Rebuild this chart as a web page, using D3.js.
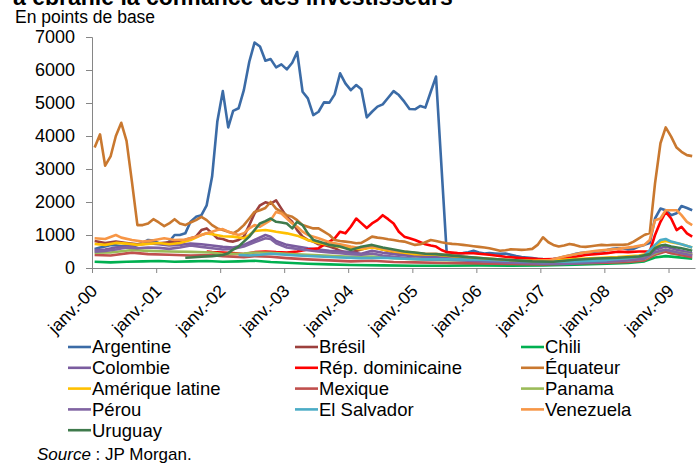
<!DOCTYPE html>
<head>
  <meta charset="utf-8">
  <script src="https://d3js.org/d3.v7.min.js"></script>
  <style>
    body { margin: 0; background: #fff; }
    text { font-family: "Liberation Sans", Arial, sans-serif; fill: #000; }
  </style>
</head>

<body>
  <div id="chart"></div>

  <script>
    // Spreads in basis points, [month index from janv. 2000, value]
    var argentine = [[0,575],[1,620],[2,650],[3,700],[4,690],[5,660],[6,680],[7,645],[8,700],[9,760],[10,850],[11,830],
      [12,750],[13,720],[14,800],[15,1000],[16,1000],[17,1050],[18,1400],[19,1550],[20,1600],[21,1900],[22,2770],[23,4450],
      [24,5360],[25,4260],[26,4760],[27,4840],[28,5390],[29,6250],[30,6830],[31,6710],[32,6280],[33,6330],[34,6080],[35,6170],
      [36,6020],[37,6220],[38,6545],[39,5340],[40,5140],[41,4635],[42,4735],[43,5020],[44,5010],[45,5260],[46,5900],[47,5595],
      [48,5390],[49,5545],[50,5415],[51,4565],[52,4735],[53,4890],[54,4960],[55,5160],[56,5360],[57,5240],[58,5040],[59,4820],
      [60,4810],[61,4910],[62,4860],[63,5340],[64,5800],[66,450],[67,440],[68,430],[69,450],[70,480],[71,520],
      [72,470],[73,440],[74,450],[75,440],[76,430],[77,440],[78,400],[79,360],[80,330],[81,320],[82,300],[83,280],
      [84,270],[85,265],[86,270],[87,300],[88,340],[89,380],[90,420],[91,450],[92,470],[93,480],[94,500],[95,520],
      [96,545],[97,580],[98,600],[99,600],[100,560],[101,580],[102,650],[103,700],[104,760],[105,1500],[106,1800],[107,1750],
      [108,1600],[109,1660],[110,1880],[111,1820],[112,1750]];

    var bresil = [[0,820],[2,760],[4,800],[6,760],[8,720],[10,760],[12,750],[14,780],[16,800],[18,900],[19,950],[20,1150],
      [21,1200],[22,1050],[23,900],[24,880],[25,820],[26,800],[27,850],[28,950],[29,1300],[30,1650],[31,1900],[32,1990],
      [33,1950],[34,2050],[35,1800],[36,1550],[37,1400],[38,1150],[39,950],[40,850],[41,800],[42,720],[43,700],[44,650],
      [45,600],[46,520],[47,480],[48,470],[50,560],[52,650],[53,600],[56,480],[60,400],[64,400],[66,350],[70,300],[76,240],
      [84,190],[90,190],[96,230],[100,260],[104,330],[105,450],[106,520],[107,500],[108,450],[110,430],[112,400]];

    var chili = [[0,190],[3,170],[6,190],[9,200],[12,210],[15,190],[18,200],[21,210],[24,190],[27,200],[30,220],[33,180],
      [36,160],[40,130],[44,110],[48,90],[54,80],[60,70],[66,70],[72,80],[78,70],[84,80],[90,100],[96,130],[100,150],
      [103,200],[105,320],[107,360],[109,330],[112,280]];

    var colombie = [[0,545],[2,560],[4,620],[6,650],[8,700],[10,750],[12,720],[14,680],[16,700],[18,740],[20,720],[22,680],
      [24,640],[26,620],[28,700],[30,850],[32,1000],[33,950],[34,820],[36,700],[38,650],[40,600],[42,560],[44,520],[46,500],
      [48,480],[50,430],[52,520],[54,460],[56,420],[60,350],[64,330],[66,300],[70,260],[74,230],[78,200],[84,150],[88,170],
      [92,210],[96,250],[100,280],[103,330],[105,550],[107,650],[109,550],[112,450]];

    var repDominicaine = [[21,500],[22,480],[24,470],[26,450],[28,420],[30,480],[32,500],[34,480],[36,470],[38,500],[40,560],
      [42,600],[43,700],[44,800],[45,900],[46,1100],[47,1050],[48,1250],[49,1500],[50,1360],[51,1210],[52,1350],[53,1450],
      [54,1600],[55,1480],[56,1350],[57,1100],[58,950],[59,900],[60,850],[61,780],[62,720],[63,680],[64,650],[65,545],
      [66,480],[68,450],[71,445],[74,400],[77,340],[80,300],[84,260],[88,280],[92,395],[96,450],[98,495],[100,480],[102,500],
      [104,500],[105,1000],[106,1400],[107,1700],[108,1500],[109,1150],[110,1250],[111,1050],[112,950]];

    var equateur = [[0,3650],[1,4050],[2,3100],[3,3380],[4,4000],[5,4400],[6,3850],[7,2600],[8,1300],[9,1300],[10,1350],[11,1480],
      [12,1380],[13,1270],[14,1350],[15,1480],[16,1350],[17,1300],[18,1380],[19,1450],[20,1550],[21,1450],[22,1300],[23,1200],
      [24,1150],[25,1100],[26,1050],[27,1150],[28,1300],[29,1500],[30,1700],[31,1750],[32,1820],[33,2000],[34,1800],[35,1700],
      [36,1600],[37,1550],[38,1450],[39,1300],[40,1250],[41,1200],[42,1200],[43,1100],[44,1000],[45,850],[46,820],[47,800],
      [48,780],[49,750],[50,760],[51,850],[52,950],[53,920],[54,900],[55,870],[56,850],[57,820],[58,800],[59,750],
      [60,700],[61,720],[62,780],[63,850],[64,820],[65,780],[66,750],[67,730],[68,720],[69,700],[70,680],[71,660],
      [72,640],[73,620],[74,600],[75,560],[76,525],[77,540],[78,565],[79,560],[80,550],[81,560],[82,580],[83,700],
      [84,930],[85,780],[86,700],[87,650],[88,680],[89,730],[90,700],[91,650],[92,640],[93,660],[94,680],[95,700],
      [96,690],[97,700],[98,700],[99,700],[100,720],[101,800],[102,900],[103,1000],[104,1060],[105,2565],[106,3780],[107,4260],
      [108,3980],[109,3650],[110,3520],[111,3420],[112,3390]];

    var ameriqueLatine = [[0,727],[2,700],[4,760],[6,740],[8,700],[10,730],[12,760],[14,720],[16,760],[18,850],[20,1000],
      [21,1050],[22,1020],[24,960],[26,950],[28,900],[29,1000],[30,1120],[32,1150],[33,1130],[34,1100],[36,1050],[38,980],
      [40,850],[42,760],[44,700],[46,640],[48,600],[50,570],[52,620],[54,560],[56,500],[58,460],[60,420],[64,400],[66,370],
      [70,320],[74,280],[78,240],[82,220],[86,230],[90,270],[94,300],[98,330],[102,380],[104,450],[105,650],[106,780],
      [107,820],[108,780],[110,720],[112,620]];

    var mexique = [[0,394],[3,380],[7,465],[10,420],[14,400],[18,380],[22,390],[24,360],[28,330],[30,360],[33,340],[36,300],
      [40,260],[44,230],[48,200],[52,220],[56,180],[60,170],[66,150],[72,140],[78,120],[84,110],[90,140],[96,160],[100,180],
      [103,230],[105,400],[107,500],[109,420],[112,330]];

    var panama = [[0,465],[3,470],[7,545],[10,520],[14,500],[18,490],[22,470],[24,420],[28,440],[30,470],[33,460],[36,430],
      [40,400],[44,370],[48,340],[52,350],[56,300],[60,270],[66,240],[72,220],[78,180],[84,150],[90,170],[96,200],[100,230],
      [103,280],[105,450],[107,560],[109,480],[112,400]];

    var perou = [[0,495],[2,520],[4,560],[6,620],[8,600],[10,620],[12,610],[14,580],[16,620],[18,680],[20,640],[22,600],
      [24,560],[26,580],[28,650],[30,780],[32,900],[33,880],[34,750],[36,620],[38,580],[40,540],[42,500],[44,470],[46,450],
      [48,420],[50,400],[52,440],[54,380],[56,340],[60,280],[64,260],[66,250],[70,220],[74,190],[78,160],[84,130],[88,120],
      [92,160],[96,190],[100,230],[103,280],[105,480],[107,550],[109,480],[112,380]];

    var elSalvador = [[27,394],[29,380],[31,400],[33,430],[35,410],[38,380],[42,350],[46,320],[50,300],[54,310],[58,280],
      [62,260],[66,260],[72,250],[78,220],[84,180],[90,200],[96,240],[100,300],[103,380],[105,700],[106,850],[107,880],
      [108,800],[110,720],[112,620]];

    var venezuela = [[0,900],[2,880],[4,1000],[5,920],[7,850],[9,800],[11,840],[13,900],[15,850],[17,860],[19,950],[20,1000],
      [21,1050],[22,1100],[23,1150],[24,1180],[25,1100],[26,1050],[27,1000],[28,1050],[29,1200],[30,1300],[31,1250],[32,1350],
      [33,1450],[34,1700],[35,1650],[36,1500],[37,1350],[38,1250],[39,1100],[40,1000],[42,900],[44,780],[46,720],[48,650],
      [50,600],[52,650],[54,600],[56,520],[58,500],[60,460],[62,430],[64,430],[66,400],[70,330],[74,280],[78,240],[82,210],
      [85,230],[88,350],[91,450],[94,520],[98,580],[101,640],[103,700],[104,850],[105,1450],[106,1500],[107,1750],[108,1750],
      [109,1750],[110,1600],[111,1400],[112,1300]];

    var uruguay = [[17,310],[18,320],[20,340],[22,360],[24,395],[25,450],[26,560],[27,650],[28,800],[29,950],[30,1150],
      [31,1350],[32,1420],[33,1500],[34,1400],[35,1380],[36,1350],[37,1200],[38,1400],[39,1300],[40,1050],[41,850],[42,800],
      [43,750],[44,700],[46,650],[48,545],[50,645],[52,700],[54,620],[56,560],[58,500],[60,470],[62,430],[64,420],[66,390],
      [70,330],[74,280],[78,240],[82,200],[86,190],[90,250],[94,290],[98,310],[102,350],[104,420],[105,600],[106,680],
      [107,700],[108,650],[110,600],[112,520]];

    // Legend order (row by row, 3 columns)
    var names = ["Argentine", "Brésil", "Chili", "Colombie", "Rép. dominicaine", "Équateur",
                 "Amérique latine", "Mexique", "Panama", "Pérou", "El Salvador", "Venezuela", "Uruguay"];
    var seriesData = [argentine, bresil, chili, colombie, repDominicaine, equateur,
                      ameriqueLatine, mexique, panama, perou, elSalvador, venezuela, uruguay];
    var colors = ["#3b6ba6", "#9c403d", "#00b050", "#7a5c9f", "#ff0000", "#c9782f",
                  "#ffc000", "#c0504d", "#9bbb59", "#8064a2", "#4bacc6", "#f79646", "#3f7a4c"];

    var yTicks = [0, 1000, 2000, 3000, 4000, 5000, 6000, 7000];
    var years = [2000, 2001, 2002, 2003, 2004, 2005, 2006, 2007, 2008, 2009];

    var width = 697, height = 464;

    var svg = d3.select("#chart").append("svg")
        .attr("width", width)
        .attr("height", height);

    // Titles (the top one is cut by the frame)
    svg.append("text")
        .attr("x", 13)
        .attr("y", 5)
        .style("font-size", "23px")
        .style("font-weight", "bold")
        .text("a ébranlé la confiance des investisseurs");

    svg.append("text")
        .attr("x", 15)
        .attr("y", 23)
        .style("font-size", "17.5px")
        .text("En points de base");

    var x = d3.scaleTime()
        .domain([new Date(2000, 0, 1), new Date(2009, 5, 1)])
        .range([92, 695]);

    var y = d3.scaleLinear()
        .domain([0, 7000])
        .range([268, 37]);

    function monthDate(m) {
        return d3.timeMonth.offset(new Date(2000, 0, 16), m);
    }

    // Y axis
    var yAxis = svg.append("g")
        .attr("transform", "translate(92,0)")
        .call(d3.axisLeft(y).tickValues(yTicks).tickSize(6).tickPadding(11).tickFormat(d3.format("d")));
    yAxis.select(".domain").attr("stroke", "#868686");
    yAxis.selectAll(".tick line").attr("stroke", "#868686");
    yAxis.selectAll("text").style("font-size", "18px").style("font-family", "Liberation Sans, Arial, sans-serif");

    // X axis
    var xAxis = svg.append("g")
        .attr("transform", "translate(0,268)")
        .call(d3.axisBottom(x)
            .tickValues(years.map(function(yr) { return new Date(yr, 0, 1); }))
            .tickSize(5)
            .tickSizeOuter(0)
            .tickFormat(function(d) { return "janv.-" + d3.timeFormat("%y")(d); }));
    xAxis.select(".domain").attr("stroke", "#868686");
    xAxis.selectAll(".tick line").attr("stroke", "#868686");
    xAxis.selectAll("text")
        .style("font-size", "17.5px")
        .style("font-family", "Liberation Sans, Arial, sans-serif")
        .attr("text-anchor", "end")
        .attr("dy", null)
        .attr("y", 0)
        .attr("transform", "translate(6,24) rotate(-45)");

    // Lines
    var line = d3.line()
        .x(function(d) { return x(monthDate(d[0])); })
        .y(function(d) { return y(d[1]); });

    seriesData.forEach(function(s, i) {
        svg.append("path")
            .datum(s)
            .attr("fill", "none")
            .attr("stroke", colors[i])
            .attr("stroke-width", 2.6)
            .attr("stroke-linejoin", "round")
            .attr("d", line);
    });

    // Legend
    var colX = [68, 295, 521];
    var legend = svg.append("g");
    names.forEach(function(name, i) {
        var cx = colX[i % 3];
        var cy = 347 + Math.floor(i / 3) * 20.8;
        legend.append("line")
            .attr("x1", cx).attr("x2", cx + 23)
            .attr("y1", cy).attr("y2", cy)
            .attr("stroke", colors[i])
            .attr("stroke-width", 2.6);
        legend.append("text")
            .attr("x", cx + 24)
            .attr("y", cy)
            .attr("dy", "0.35em")
            .style("font-size", "18.5px")
            .text(name);
    });

    // Source
    var src = svg.append("text")
        .attr("x", 37)
        .attr("y", 460)
        .style("font-size", "17px");
    src.append("tspan").style("font-style", "italic").text("Source");
    src.append("tspan").text(" : JP Morgan.");
  </script>
</body>
